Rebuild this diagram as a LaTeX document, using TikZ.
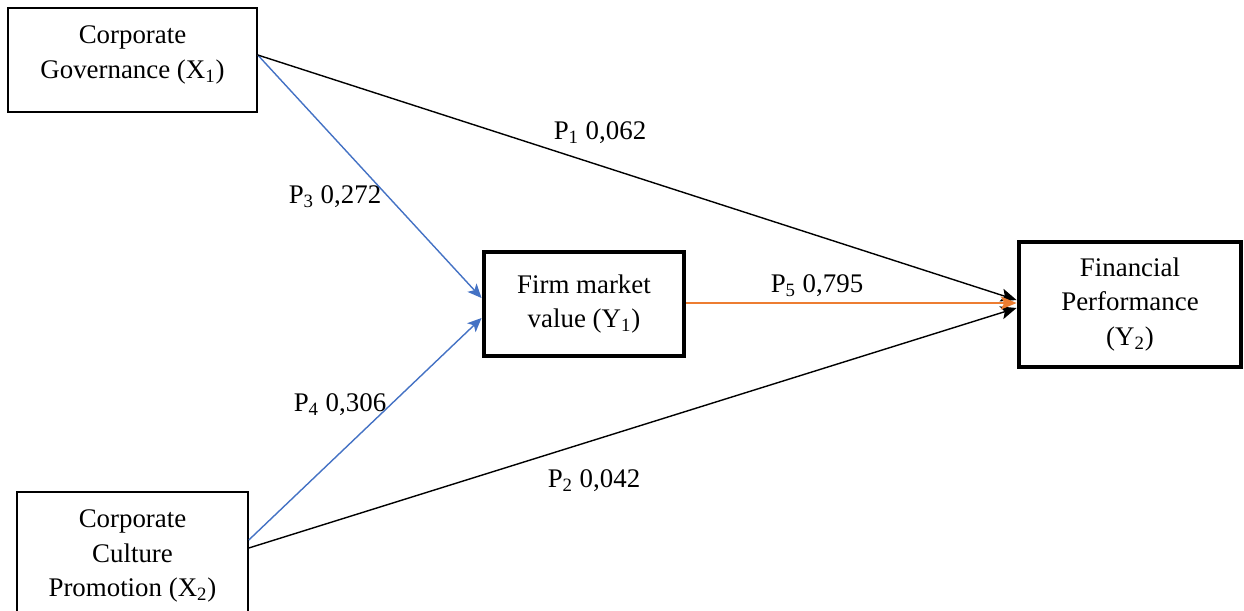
\documentclass[tikz,border=0pt]{standalone}
\usepackage{fontspec}
\setmainfont{Liberation Serif}
\usetikzlibrary{positioning, arrows.meta, calc}
\definecolor{pathblue}{RGB}{68,114,196}
\definecolor{pathorange}{RGB}{237,125,49}
\tikzset{
        my-var-box/.style={
            draw, line width=0.9pt, align=center, inner sep=0pt,
            font=\fontsize{15.3}{19.8}\selectfont
        },
        my-thick-box/.style={
            my-var-box, line width=2.8pt
        },
        my-path/.style={
            line width=0.8pt, -{Stealth[length=9pt, width=7.5pt, inset=2pt]}
        },
        my-label/.style={
            font=\fontsize{15.3}{19.8}\selectfont, inner sep=0pt
        },
}
\begin{document}
\begin{tikzpicture}[x=0.02cm, y=-0.02cm]

        \useasboundingbox (0,0) rectangle (1244,610);

        %DRAW NODES (boxes at pixel positions of the layout)
        \node [my-var-box, minimum width=249*0.02cm, minimum height=104*0.02cm]    (X1) at (132.5,60)  {};
        \node [my-label, align=center] (X1text) at (132.5,55) {Corporate\\Governance (X\textsubscript{1})};
        \node [my-var-box, minimum width=231*0.02cm, minimum height=128*0.02cm]    (X2) at (132.5,556) {Corporate\\Culture\\Promotion (X\textsubscript{2})};
        \node [my-thick-box, minimum width=200*0.02cm, minimum height=104*0.02cm]  (Y1) at (584,304)   {Firm market\\value (Y\textsubscript{1})};
        \node [my-thick-box, minimum width=222*0.02cm, minimum height=125*0.02cm]  (Y2) at (1130,304.5) {Financial\\Performance\\(Y\textsubscript{2})};

        % PATH COEFFICIENTS
        \node [my-label] (P1) at (600,133) {P\textsubscript{1} 0,062};
        \node [my-label] (P2) at (594,481) {P\textsubscript{2} 0,042};
        \node [my-label] (P3) at (335,197) {P\textsubscript{3} 0,272};
        \node [my-label] (P4) at (340,405) {P\textsubscript{4} 0,306};
        \node [my-label] (P5) at (817,286) {P\textsubscript{5} 0,795};

        % CONNECT TO FIRM MARKET VALUE
        \draw [my-path, pathblue, -{Stealth[length=8pt, width=7pt, inset=2pt]}] ($(X1.east)+(0,-5)$) -- ($(Y1.west)+(0,-6)$);
        \draw [my-path, pathblue, -{Stealth[length=8pt, width=7pt, inset=2pt]}] ($(X2.east)+(0,-16)$) -- ($(Y1.west)+(0,14)$);

        % CONNECT TO FINANCIAL PERFORMANCE
        \draw [my-path] ($(X1.east)+(0,-5)$) -- ($(Y2.west)+(0,-4.5)$);
        \draw [my-path] ($(X2.east)+(0,-8)$) -- ($(Y2.west)+(0,3.5)$);
        \draw [my-path, pathorange] ($(Y1.east)+(0,-1)$) -- ($(Y2.west)+(0,-1.5)$);

\end{tikzpicture}
\end{document}
